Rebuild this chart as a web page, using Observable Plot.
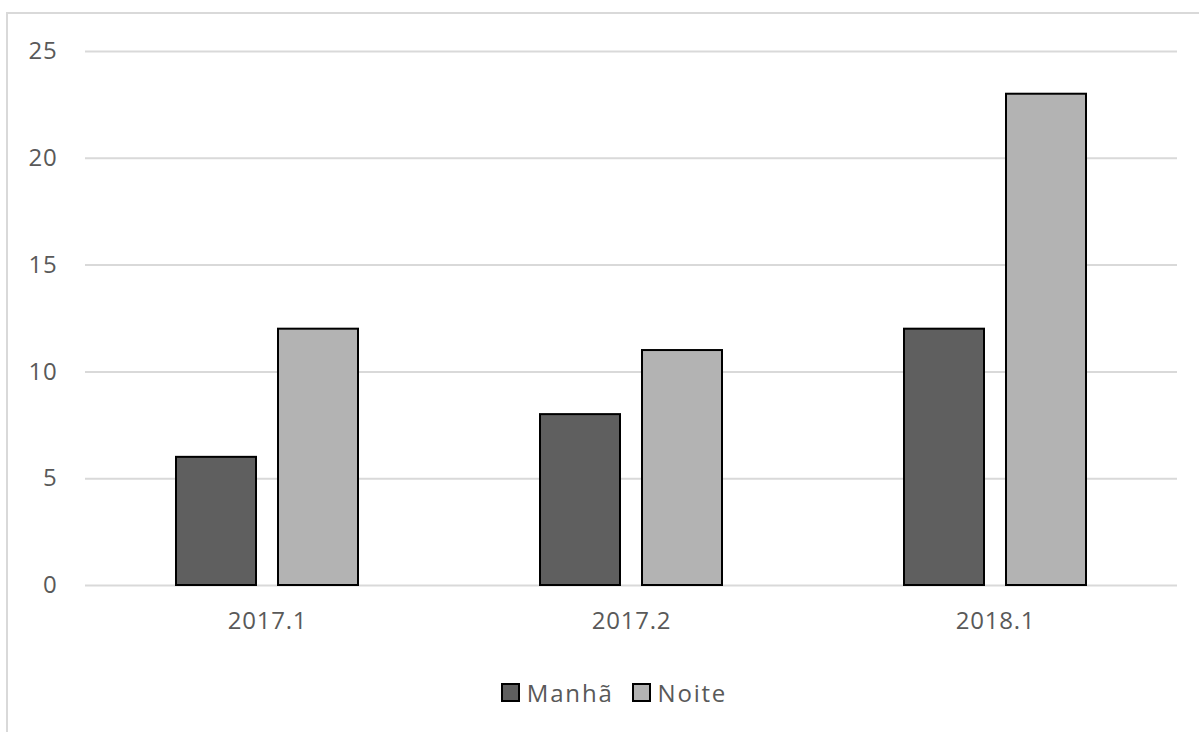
<!DOCTYPE html>
<html>
<head>
<meta charset="utf-8">
<script src="https://cdn.jsdelivr.net/npm/d3@7"></script>
<script src="https://cdn.jsdelivr.net/npm/@observablehq/plot@0.6"></script>
<style>
  html, body { margin: 0; padding: 0; background: #fff; overflow: hidden; width: 1199px; height: 732px; }
  #frame { position: absolute; left: 6px; top: 12px; width: 1300px; height: 900px; border: 2px solid #d9d9d9; box-sizing: border-box; }
  #chart { position: absolute; left: 0; top: 0; }
  #legend { position: absolute; top: 676px; left: 0; width: 1228px; display: flex; justify-content: center; align-items: center;
            font-family: "Open Sans", sans-serif; font-size: 24px; color: #595959; letter-spacing: 1.8px; }
  .item { display: flex; align-items: center; margin: 0 9px; }
  .sw { width: 15px; height: 15px; border: 2px solid #000; margin-right: 7px; }
</style>
</head>
<body>
<div id="frame"></div>
<div id="chart"></div>
<div id="legend"></div>
<script>
const categories = ["2017.1", "2017.2", "2018.1"];
const series = ["Manhã", "Noite"];
const manha = [6, 8, 12];
const noite = [12, 11, 23];
const yTicks = [0, 5, 10, 15, 20, 25];
const colors = ["#5f5f5f", "#b3b3b3"];

const data = categories.flatMap((c, i) => [
  {cat: c, serie: series[0], value: manha[i]},
  {cat: c, serie: series[1], value: noite[i]}
]);

const chart = Plot.plot({
  width: 1199,
  height: 640,
  marginLeft: 85,
  marginRight: 22,
  marginTop: 51,
  marginBottom: 55,
  style: {fontFamily: "Open Sans, sans-serif", fontSize: "24px", color: "#595959", background: "transparent", overflow: "visible", letterSpacing: "0.8px"},
  fx: {domain: categories, padding: 0, label: null, axis: "bottom", tickSize: 0, tickPadding: 26},
  x: {domain: series, paddingInner: 0.2136, paddingOuter: 0.874, axis: null},
  y: {domain: [0, 25], ticks: yTicks, tickSize: 0, tickPadding: 28, label: null},
  color: {domain: series, range: colors},
  marks: [
    Plot.gridY(yTicks, {stroke: "#d9d9d9", strokeOpacity: 1, strokeWidth: 2}),
    Plot.barY(data, {fx: "cat", x: "serie", y: "value", fill: "serie", stroke: "#000", strokeWidth: 2})
  ]
});
document.getElementById("chart").appendChild(chart);

const legend = document.getElementById("legend");
series.forEach((s, i) => {
  const item = document.createElement("div");
  item.className = "item";
  const sw = document.createElement("div");
  sw.className = "sw";
  sw.style.background = colors[i];
  const t = document.createElement("span");
  t.textContent = s;
  item.appendChild(sw);
  item.appendChild(t);
  legend.appendChild(item);
});
</script>
</body>
</html>
